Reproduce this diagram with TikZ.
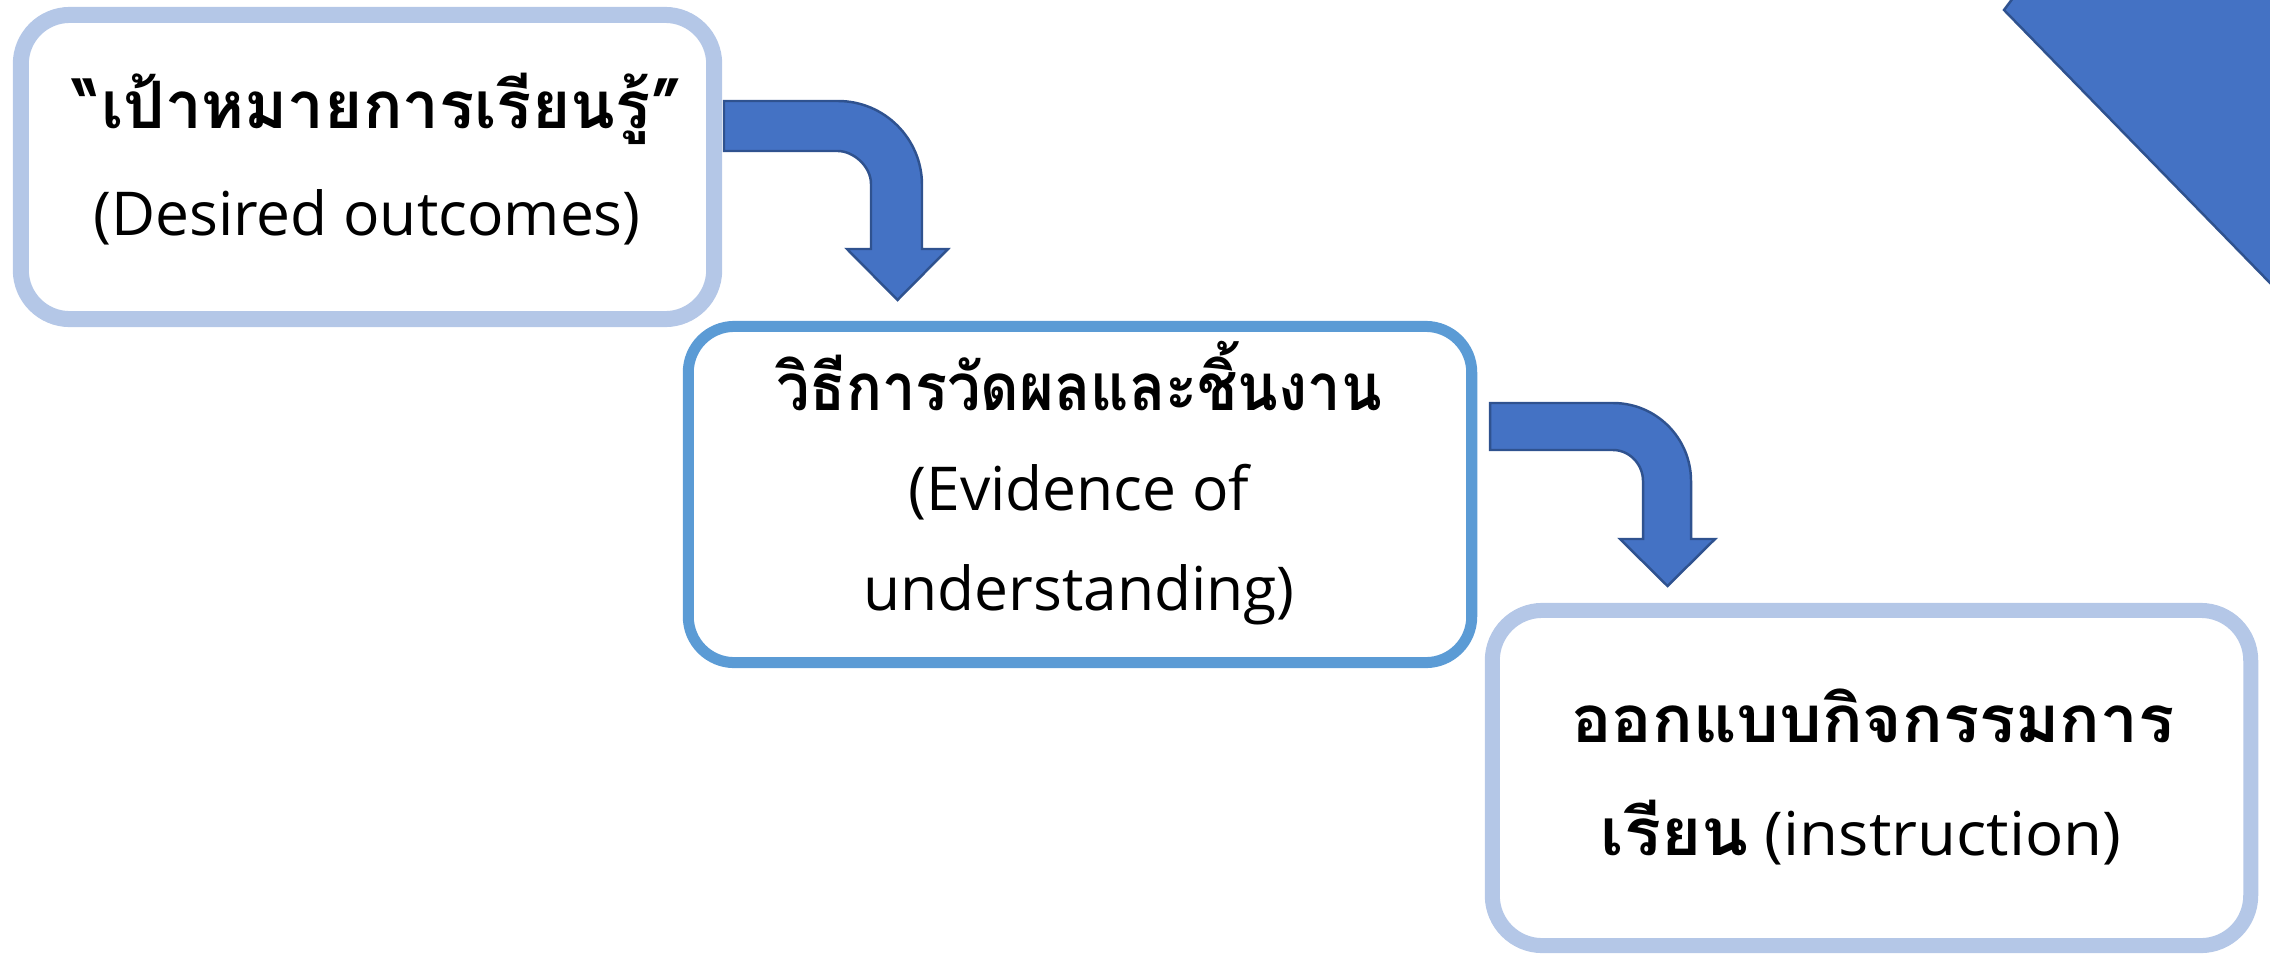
\documentclass[tikz,border=0pt]{standalone}
\usepackage{fontspec}
\setmainfont{Open Sans}
\newfontfamily\thaifont[Script=Thai]{Loma}
\definecolor{lightbd}{HTML}{B4C7E7}
\definecolor{midbd}{HTML}{5B9BD5}
\definecolor{arrfill}{HTML}{4472C4}
\definecolor{arrline}{HTML}{2F528F}
\newcommand{\thaibf}{\fontsize{18.6pt}{22pt}\selectfont\thaifont\bfseries}
\tikzset{
  boxA/.style={draw=lightbd, line width=16*0.2845pt, fill=white, inner sep=0pt, rectangle},
  boxB/.style={draw=midbd, line width=11*0.2845pt, fill=white, inner sep=0pt, rectangle},
  boxC/.style={draw=lightbd, line width=15*0.2845pt, fill=white, inner sep=0pt, rectangle},
  bendarrow/.style={fill=arrfill, draw=arrline, line width=0.7pt, line join=miter},
  txt/.style={anchor=base, inner sep=0pt, font=\fontsize{17.2pt}{20pt}\selectfont},
  thai/.style={anchor=base, inner sep=0pt, font=\thaibf},
}
\begin{document}
\begin{tikzpicture}[x=0.01cm, y=-0.01cm]
\useasboundingbox (0,0) rectangle (2270,954);
% top-right triangle
\begin{scope}
\clip (0,0) rectangle (2270,954);
\fill[arrfill] (2013,-2) -- (2004,10) -- (2272,285) -- (2272,-2) -- cycle;
\draw[arrline, line width=0.7pt] (2013,-2) -- (2004,10) -- (2272,285);
\end{scope}
% boxes
\node[boxA, minimum width=6.93cm, minimum height=3.04cm, rounded corners=0.49cm] (b1) at (367.5,167) {};
\node[boxB, minimum width=7.83cm, minimum height=3.36cm, rounded corners=0.46cm] (b2) at (1080,494.5) {};
\node[boxC, minimum width=7.58cm, minimum height=3.35cm, rounded corners=0.50cm] (b3) at (1871.5,778) {};
% bent arrows
\coordinate (a1s) at (724,101);
\path[bendarrow] (a1s) -- (838,101) .. controls (884.4,101) and (922,138.6) .. (922,185) -- (922,249) -- (948,249) -- (897.5,300) -- (847,249) -- (871,249) -- (871,184) .. controls (871,165.8) and (852.8,151) .. (838,151) -- (724,151) -- cycle;
\coordinate (a2s) at (1490,403);
\path[bendarrow] (a2s) -- (1613,403) .. controls (1656.1,403) and (1691,437.9) .. (1691,481) -- (1691,539) -- (1715,539) -- (1667.5,586) -- (1620,539) -- (1643,539) -- (1643,481) .. controls (1643,464.4) and (1629.6,450) .. (1613,450) -- (1490,450) -- cycle;
% texts
\node[thai] (t1a) at (378,128) {“เป้าหมายการเรียนรู้”};
\node[txt] (t1b) at (367,235) {(Desired outcomes)};
\node[thai] (t2a) at (1079,410) {\scalebox{0.91}[1]{วิธีการวัดผลและชิ้นงาน}};
\node[txt] (t2b) at (1079,510) {(Evidence of};
\node[txt] (t2c) at (1079,610) {understanding)};
\node[thai] (t3a) at (1873,742) {\scalebox{1.03}[1]{ออกแบบกิจกรรมการ}};
\node[txt] (t3b) at (1861,855) {\scalebox{1.05}[1]{{\thaibf เรียน} (instruction)}};
\end{tikzpicture}
\end{document}
